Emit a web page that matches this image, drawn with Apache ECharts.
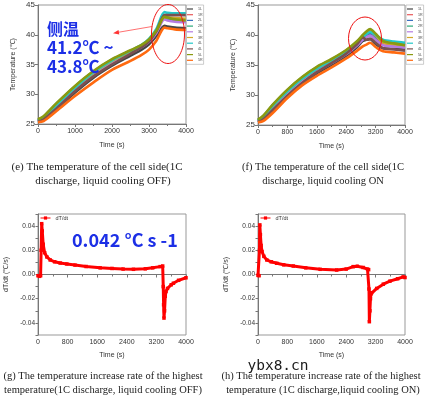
<!DOCTYPE html>
<html>
<head>
<meta charset="utf-8">
<script src="https://cdn.jsdelivr.net/npm/echarts@6/dist/echarts.min.js"></script>
<style>
html, body { margin: 0; padding: 0; background: #fff; }
#chart { width: 425px; height: 396px; }
</style>
</head>
<body>
<div id="chart"></div>
<script>
// sensor names (the picture prints "4L" twice)
const sensorKeys = ['1L', '1R', '2L', '2R', '3L', '3R', '4L', '4R', '5L', '5R'];
const sensorLabels = ['1L', '1R', '2L', '2R', '3L', '3R', '4L', '4L', '5L', '5R'];
const sensorColors = ['#454545', '#e8585a', '#3a6fc0', '#2aa878', '#b57be0', '#d4a82a', '#22c8c8', '#7a5050', '#8a9a10', '#ff6a10'];

// (e) cell side temperature, liquid cooling OFF
const offTime = [0, 150, 500, 1000, 1500, 2000, 2500, 2800, 3000, 3200, 3420, 3500, 3700, 4000];
const off1L = [25.4, 25.8, 27.5, 30.3, 32.8, 34.8, 36.5, 37.5, 38.4, 39.8, 41.5, 41.4, 41.2, 41.1];
const off1R = [25.6, 26.0, 28.1, 31.0, 33.5, 35.5, 37.1, 38.1, 39.0, 40.5, 42.9, 42.8, 42.7, 42.6];
const off2L = [25.6, 26.1, 28.3, 31.2, 33.7, 35.7, 37.2, 38.1, 39.0, 40.5, 42.8, 42.6, 42.4, 42.3];
const off2R = [25.7, 26.2, 28.4, 31.3, 33.8, 35.8, 37.3, 38.2, 39.1, 40.6, 42.9, 42.8, 42.6, 42.5];
const off3L = [25.5, 25.9, 27.9, 30.8, 33.3, 35.3, 36.9, 37.9, 38.8, 40.3, 42.6, 42.4, 42.2, 42.1];
const off3R = [25.7, 26.1, 28.3, 31.2, 33.6, 35.6, 37.2, 38.2, 39.1, 40.6, 43.0, 42.9, 42.8, 42.7];
const off4L = [25.6, 26.0, 28.2, 31.1, 33.7, 35.7, 37.3, 38.3, 39.3, 41.0, 43.8, 43.7, 43.6, 43.6];
const off4R = [25.4, 25.8, 27.6, 30.5, 33.0, 35.0, 36.8, 37.9, 38.9, 40.6, 43.3, 43.3, 43.3, 43.3];
const off5L = [25.8, 26.3, 28.5, 31.4, 33.9, 35.9, 37.4, 38.3, 39.2, 40.7, 43.0, 42.9, 42.6, 42.4];
const off5R = [25.3, 25.5, 27.2, 29.7, 32.0, 34.1, 35.6, 36.6, 37.5, 39.0, 41.2, 41.1, 40.9, 40.8];

// (f) cell side temperature, liquid cooling ON
const onTime = [0, 150, 400, 800, 1200, 1600, 2000, 2400, 2700, 2850, 2950, 3050, 3200, 3400, 3700, 4000];
const on1L = [25.5, 25.9, 27.4, 29.8, 31.9, 33.6, 35.0, 36.5, 38.0, 39.0, 39.2, 39.3, 38.5, 37.8, 37.7, 37.6];
const on1R = [25.7, 26.3, 28.0, 30.4, 32.5, 34.2, 35.6, 37.1, 38.6, 39.5, 39.9, 40.1, 39.5, 38.7, 38.4, 38.2];
const on2L = [25.7, 26.4, 28.1, 30.5, 32.6, 34.3, 35.7, 37.2, 38.7, 39.6, 40.0, 40.3, 39.6, 38.9, 38.6, 38.4];
const on2R = [25.8, 26.5, 28.3, 30.8, 32.9, 34.6, 35.9, 37.4, 38.9, 39.9, 40.4, 40.8, 40.0, 38.9, 38.6, 38.4];
const on3L = [25.6, 26.1, 27.7, 30.1, 32.2, 33.9, 35.3, 36.8, 38.3, 39.2, 39.6, 39.9, 39.2, 38.3, 38.1, 37.9];
const on3R = [25.8, 26.4, 28.2, 30.6, 32.7, 34.4, 35.8, 37.3, 38.8, 39.7, 40.2, 40.6, 39.9, 38.8, 38.5, 38.3];
const on4L = [25.8, 26.4, 28.2, 30.6, 32.7, 34.4, 35.8, 37.3, 38.8, 39.7, 40.2, 40.5, 40.0, 39.2, 38.9, 38.7];
const on4R = [25.5, 26.0, 27.5, 29.9, 32.0, 33.8, 35.3, 36.9, 38.5, 39.6, 39.2, 39.4, 38.7, 37.8, 37.6, 37.4];
const on5L = [25.9, 26.6, 28.4, 30.9, 33.0, 34.7, 36.0, 37.5, 39.0, 40.0, 40.6, 41.0, 40.2, 39.0, 38.6, 38.3];
const on5R = [25.4, 25.7, 27.0, 29.5, 31.6, 33.2, 34.6, 36.1, 37.4, 38.1, 38.4, 38.7, 38.0, 37.3, 37.1, 36.9];

// (g) dT/dt of the highest temperature, cooling OFF
const offRateTime = [0, 40, 70, 85, 100, 115, 140, 180, 240, 330, 450, 600, 780, 1000, 1300, 1680, 2000, 2300, 2580, 2900, 3100, 3300, 3370, 3385, 3395, 3405, 3420, 3440, 3460, 3500, 3600, 3660, 3800, 4000];
const offRate = [-0.001, -0.0015, -0.001, 0.02, 0.042, 0.036, 0.025, 0.018, 0.0145, 0.012, 0.0105, 0.0095, 0.0087, 0.0078, 0.0066, 0.0055, 0.005, 0.0045, 0.0043, 0.0047, 0.0055, 0.0065, 0.007, -0.01, -0.025, -0.036, -0.03, -0.018, -0.014, -0.0115, -0.0085, -0.0072, -0.0048, -0.0027];

// (h) dT/dt of the highest temperature, cooling ON
const onRateTime = [0, 30, 40, 50, 65, 85, 110, 160, 240, 360, 510, 700, 960, 1300, 1690, 2140, 2400, 2590, 2700, 2860, 2980, 3010, 3020, 3030, 3045, 3060, 3075, 3090, 3230, 3410, 3590, 3800, 3950, 4000];
const onRate = [-0.0007, -0.001, 0.02, 0.041, 0.033, 0.024, 0.019, 0.015, 0.012, 0.0105, 0.0093, 0.008, 0.007, 0.0055, 0.0043, 0.0037, 0.0045, 0.0065, 0.0068, 0.0058, 0.0045, 0.004, -0.012, -0.039, -0.03, -0.02, -0.016, -0.015, -0.0115, -0.008, -0.0055, -0.0035, -0.002, -0.0025];

const offSets = [off1L, off1R, off2L, off2R, off3L, off3R, off4L, off4R, off5L, off5R];
const onSets = [on1L, on1R, on2L, on2R, on3L, on3R, on4L, on4R, on5L, on5R];

const axisFont = 'Liberation Sans';
const blue = '#1c2fe6';
const captionFont = '"Liberation Serif", serif';

function pairs(xs, ys) {
    return xs.map((x, i) => [x, ys[i]]);
}

function timeAxis(gridIndex, interval, top) {
    return {
        type: 'value',
        gridIndex: gridIndex,
        min: 0,
        max: 4000,
        interval: interval,
        name: 'Time (s)',
        nameLocation: 'middle',
        nameGap: top ? 18 : 17,
        nameTextStyle: { fontSize: 7, color: '#333', fontFamily: axisFont },
        axisLine: { lineStyle: { color: '#777', width: 1 } },
        axisTick: { length: 3, lineStyle: { color: '#777' } },
        minorTick: { show: true, splitNumber: 2, length: 2, lineStyle: { color: '#777' } },
        splitLine: { show: false },
        axisLabel: { fontSize: 7, color: '#333', margin: 4, fontFamily: axisFont, formatter: v => String(v) }
    };
}

function tempAxis(gridIndex) {
    return {
        type: 'value',
        gridIndex: gridIndex,
        min: 25,
        max: 45,
        interval: 5,
        name: 'Temperature (℃)',
        nameLocation: 'middle',
        nameGap: 21,
        nameTextStyle: { fontSize: 7, color: '#333', fontFamily: axisFont },
        axisLine: { show: true, lineStyle: { color: '#777', width: 1 } },
        axisTick: { show: true, length: 3, lineStyle: { color: '#777' } },
        splitLine: { show: false },
        axisLabel: { fontSize: 8, color: '#333', margin: 3, fontFamily: axisFont }
    };
}

function rateAxis(gridIndex) {
    return {
        type: 'value',
        gridIndex: gridIndex,
        min: -0.05,
        max: 0.05,
        interval: 0.01,
        name: 'dT/dt (℃/s)',
        nameLocation: 'middle',
        nameGap: 28,
        nameTextStyle: { fontSize: 7, color: '#333', fontFamily: axisFont },
        axisLine: { show: true, lineStyle: { color: '#777', width: 1 } },
        axisTick: { show: true, length: 2.5, lineStyle: { color: '#777' } },
        splitLine: { show: false },
        axisLabel: {
            fontSize: 6.5, color: '#333', margin: 3, fontFamily: axisFont,
            formatter: v => {
                const k = Math.round(v * 100);
                return (k % 2 === 0 && Math.abs(k) <= 4) ? (k / 100).toFixed(2) : '';
            }
        }
    };
}

function tempSeries(times, sets, axisIndex) {
    return sets.map((vals, i) => ({
        name: sensorKeys[i],
        type: 'line',
        xAxisIndex: axisIndex,
        yAxisIndex: axisIndex,
        symbol: 'none',
        smooth: 0.3,
        color: sensorColors[i],
        lineStyle: { width: 2.6 },
        data: pairs(times, vals)
    }));
}

function rateSeries(times, vals, axisIndex) {
    return {
        name: 'dT/dt',
        type: 'line',
        xAxisIndex: axisIndex,
        yAxisIndex: axisIndex,
        symbol: 'rect',
        symbolSize: 3.5,
        color: '#ff0000',
        lineStyle: { width: 3 },
        data: pairs(times, vals)
    };
}

function tempLegend(left) {
    return {
        orient: 'vertical',
        left: left,
        top: 5,
        data: sensorKeys,
        formatter: n => sensorLabels[sensorKeys.indexOf(n)],
        icon: 'rect',
        itemWidth: 6,
        itemHeight: 1.2,
        itemGap: 1.7,
        padding: [2, 1, 2, 1],
        borderColor: '#aaa',
        borderWidth: 0.6,
        textStyle: { fontSize: 3.6, color: '#444', fontFamily: axisFont, lineHeight: 4 }
    };
}

function rateLegend(left) {
    return {
        left: left,
        top: 214,
        data: ['dT/dt'],
        itemWidth: 10,
        itemHeight: 4,
        padding: 1,
        lineStyle: { width: 1 },
        textStyle: { fontSize: 5.5, color: '#333', fontFamily: axisFont }
    };
}

function caption(x, y, text, size) {
    return {
        type: 'text',
        x: x,
        y: y,
        style: {
            text: text,
            fill: '#222',
            font: size + 'px ' + captionFont,
            align: 'center',
            verticalAlign: 'middle'
        }
    };
}

function blueText(x, y, text, size) {
    return {
        type: 'text',
        x: x,
        y: y,
        z: 100,
        style: {
            text: text,
            fill: blue,
            font: 'bold ' + size + 'px "Noto Sans CJK SC", "Noto Sans", sans-serif',
            align: 'left',
            verticalAlign: 'middle'
        }
    };
}

const chart = echarts.init(document.getElementById('chart'));
const gridStyle = { show: true, borderColor: '#999', borderWidth: 1, backgroundColor: 'transparent' };

const option = {
    animation: false,
    backgroundColor: '#fff',
    grid: [
        Object.assign({ left: 38, top: 5, width: 148, height: 119 }, gridStyle),
        Object.assign({ left: 258, top: 5, width: 147, height: 120 }, gridStyle),
        Object.assign({ left: 38, top: 214, width: 148, height: 121 }, gridStyle),
        Object.assign({ left: 258, top: 214, width: 147, height: 121 }, gridStyle)
    ],
    xAxis: [
        timeAxis(0, 1000, true),
        timeAxis(1, 800, true),
        timeAxis(2, 800, false),
        timeAxis(3, 800, false)
    ],
    yAxis: [tempAxis(0), tempAxis(1), rateAxis(2), rateAxis(3)],
    legend: [tempLegend(186), tempLegend(406), rateLegend(39), rateLegend(259)],
    series: [].concat(
        tempSeries(offTime, offSets, 0),
        tempSeries(onTime, onSets, 1),
        [rateSeries(offRateTime, offRate, 2), rateSeries(onRateTime, onRate, 3)]
    ),
    graphic: [
        // (e) annotation
        blueText(47, 29, '侧温', 16),
        blueText(47, 48, '41.2℃ ~', 17),
        blueText(47, 67, '43.8℃', 17),
        { type: 'ellipse', z: 100, shape: { cx: 168, cy: 34, rx: 16.5, ry: 29.5 },
          style: { fill: 'none', stroke: '#ee1111', lineWidth: 1 } },
        { type: 'line', z: 100, shape: { x1: 152, y1: 26.5, x2: 117, y2: 32.5 },
          style: { stroke: '#ff3333', lineWidth: 0.7 } },
        { type: 'polygon', z: 100, shape: { points: [[113, 33.2], [118.5, 30], [119.3, 34.6]] },
          style: { fill: '#ff3333' } },
        // (f) annotation
        { type: 'ellipse', z: 100, shape: { cx: 365, cy: 38.5, rx: 16.5, ry: 21.5 },
          style: { fill: 'none', stroke: '#ee1111', lineWidth: 1 } },
        // (g) annotation
        blueText(72, 240, '0.042 °C s -1', 18),
        // captions
        caption(97, 167, '(e) The temperature of the cell side(1C', 11),
        caption(103, 181, 'discharge, liquid cooling OFF)', 11),
        caption(323, 167, '(f) The temperature of the cell side(1C', 10.5),
        caption(323, 181, 'discharge, liquid cooling ON', 10.5),
        caption(103, 376, '(g) The temperature increase rate of the highest', 10.5),
        caption(103, 390, 'temperature(1C discharge, liquid cooling OFF)', 10.5),
        caption(321, 376, '(h) The temperature increase rate of the highest', 10.5),
        caption(323, 390, 'temperature (1C discharge,liquid cooling ON)', 10.5),
        {
            type: 'text', x: 278, y: 366, z: 110,
            style: { text: 'ybx8.cn', fill: '#1a1a1a', font: '14.5px "DejaVu Sans Mono", monospace',
                     align: 'center', verticalAlign: 'middle' }
        }
    ]
};

chart.setOption(option);
</script>
</body>
</html>
